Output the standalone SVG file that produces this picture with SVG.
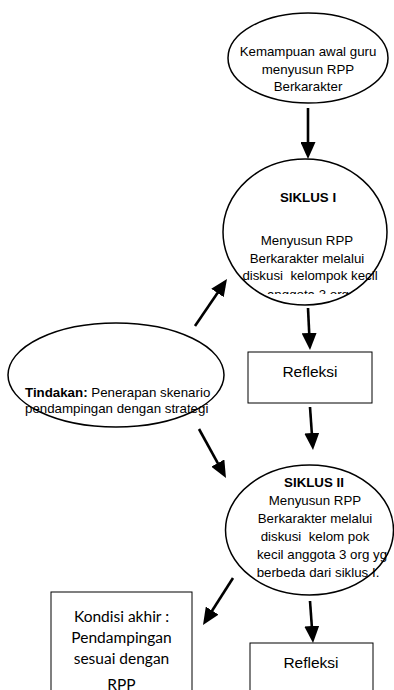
<svg xmlns="http://www.w3.org/2000/svg" width="394" height="690" viewBox="0 0 394 690">
<style>
.shape{fill:#fff;stroke:#000;stroke-width:1.5}
.box{fill:#fff;stroke:#000;stroke-width:1}
.t{font-family:"Liberation Sans",Arial,sans-serif;font-size:13.3px;fill:#000;text-anchor:middle;white-space:pre}
.b{font-weight:bold}
.k{font-family:Lato,"Liberation Sans",sans-serif;font-size:15.5px;fill:#000;text-anchor:middle}
.r{font-family:"Liberation Sans",Arial,sans-serif;font-size:15.5px;fill:#000;text-anchor:middle}
.c{fill:none;stroke:#000;stroke-width:2.6}
</style>
<defs>
<marker id="ah" viewBox="0 0 17 15" markerWidth="17" markerHeight="15" refX="4" refY="7.5" orient="auto" markerUnits="userSpaceOnUse">
<path d="M0,0 L17,7.5 L0,15 Z" fill="#000"/>
</marker>
<clipPath id="clip1"><rect x="220" y="150" width="174" height="144"/></clipPath>
</defs>
<rect width="394" height="690" fill="#fff"/>
<g id="n-awal">
<ellipse class="shape" cx="308" cy="58" rx="80" ry="45"/>
<text class="t" x="308" y="56">Kemampuan awal guru</text>
<text class="t" x="308" y="74">menyusun RPP</text>
<text class="t" x="308" y="91">Berkarakter</text>
</g>
<g id="n-siklus1">
<ellipse class="shape" cx="305" cy="232" rx="82" ry="73"/>
<g clip-path="url(#clip1)">
<text class="t b" x="308" y="202">SIKLUS I</text>
<text class="t" x="307" y="245">Menyusun RPP</text>
<text class="t" x="307" y="262.5">Berkarakter melalui</text>
<text class="t" x="310" y="280">diskusi  kelompok kecil</text>
<text class="t" x="308" y="299">anggota 3 org</text>
</g>
</g>
<g id="n-refleksi1">
<rect class="box" x="248" y="352" width="124" height="51"/>
<text class="r" x="310" y="377">Refleksi</text>
</g>
<g id="n-tindakan">
<ellipse class="shape" cx="116" cy="375" rx="108" ry="52"/>
<text class="t" x="25" y="397" style="text-anchor:start"><tspan class="b">Tindakan:</tspan> Penerapan skenario</text>
<text class="t" x="25" y="413" style="text-anchor:start">pendampingan dengan strategi</text>
</g>
<g id="n-siklus2">
<ellipse class="shape" cx="309.5" cy="530" rx="84" ry="65"/>
<text class="t b" x="314" y="486.5">SIKLUS II</text>
<text class="t" x="315" y="504.5">Menyusun RPP</text>
<text class="t" x="315" y="522.5">Berkarakter melalui</text>
<text class="t" x="315" y="540.5">diskusi  kelom pok</text>
<text class="t" x="322" y="558.5">kecil anggota 3 org yg</text>
<text class="t" x="318" y="576.5">berbeda dari siklus I.</text>
</g>
<g id="n-kondisi">
<rect class="box" x="51" y="592" width="141" height="110"/>
<text class="k" x="121.5" y="622">Kondisi akhir :</text>
<text class="k" x="121.5" y="643">Pendampingan</text>
<text class="k" x="121.5" y="664">sesuai dengan</text>
<text class="k" x="121.5" y="690">RPP</text>
</g>
<g id="n-refleksi2">
<rect class="box" x="250" y="643" width="123" height="60"/>
<text class="r" x="311" y="668">Refleksi</text>
</g>
<g id="connectors">
<line class="c" x1="308" y1="108" x2="308" y2="146" marker-end="url(#ah)"/>
<line class="c" x1="308" y1="308" x2="309.4" y2="337" marker-end="url(#ah)"/>
<line class="c" x1="310" y1="407" x2="312.1" y2="437" marker-end="url(#ah)"/>
<line class="c" x1="310" y1="601" x2="312.1" y2="630" marker-end="url(#ah)"/>
<line class="c" x1="195" y1="326" x2="219.7" y2="289.7" marker-end="url(#ah)"/>
<line class="c" x1="199" y1="429" x2="219.7" y2="466.6" marker-end="url(#ah)"/>
<line class="c" x1="233" y1="578" x2="210" y2="614" marker-end="url(#ah)"/>
</g>
</svg>
